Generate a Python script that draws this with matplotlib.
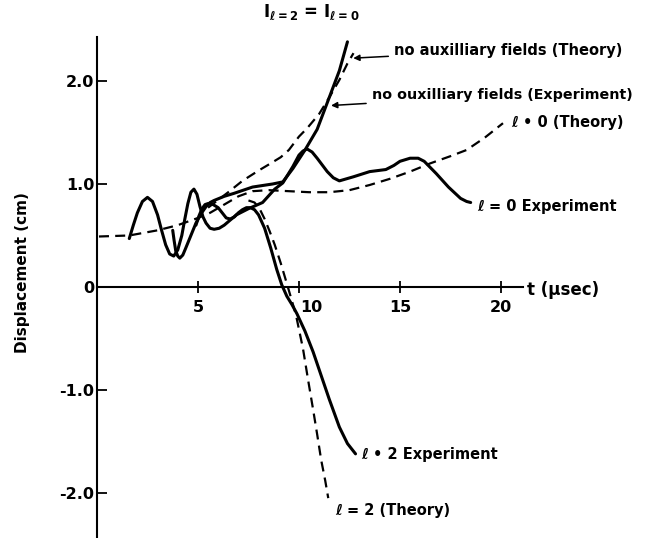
import matplotlib
matplotlib.use("Agg")
import matplotlib.pyplot as plt
import matplotlib.transforms as mtransforms

plt.rcParams['font.family'] = ['DejaVu Sans']
plt.rcParams['font.weight'] = 'bold'

# -------- Data --------
# l = 0 theory (dashed)
t_l0_theory = [0.1, 1.6, 3.0, 4.0, 5.0, 5.6, 6.3, 7.0, 7.7, 8.5, 9.5, 10.5, 11.5, 12.5,
               13.5, 14.5, 15.5, 16.5, 17.5, 18.3, 19.2, 20.1]
y_l0_theory = [0.49, 0.50, 0.55, 0.60, 0.67, 0.72, 0.80, 0.88, 0.93, 0.94, 0.93, 0.92, 0.92, 0.94,
               0.99, 1.05, 1.12, 1.20, 1.27, 1.33, 1.45, 1.59]

# no auxiliary fields theory (dashed)
t_noaux_theory = [5.5, 6.5, 7.2, 8.0, 8.6, 9.1, 9.5, 10.0, 10.4, 11.0, 11.5, 12.0, 12.4, 12.7]
y_noaux_theory = [0.77, 0.92, 1.03, 1.13, 1.20, 1.26, 1.33, 1.46, 1.54, 1.68, 1.84, 2.01, 2.17, 2.27]

# l = 2 theory (dashed)
t_l2_theory = [7.5, 7.8, 8.05, 8.3, 8.55, 8.8, 9.1, 9.45, 9.85, 10.2, 10.45, 10.7, 10.9, 11.1,
               11.3, 11.45]
y_l2_theory = [0.84, 0.82, 0.76, 0.66, 0.54, 0.41, 0.23, 0.00, -0.27, -0.60, -0.90, -1.19, -1.43,
               -1.68, -1.88, -2.05]

# l = 0 experiment (solid)
t_l0_exp = [1.6, 1.8, 2.0, 2.25, 2.5, 2.75, 3.0, 3.2, 3.4, 3.6, 3.8, 4.0, 4.2, 4.35, 4.5, 4.65,
            4.8, 4.95, 5.1, 5.25, 5.4, 5.6, 5.8, 6.05, 6.3, 6.9, 7.5, 8.2, 8.8, 9.2, 9.7, 10.0,
            10.2, 10.4, 10.65, 10.9, 11.4, 11.7, 12.0, 12.7, 13.5, 14.3, 14.7, 15.0, 15.5, 15.9,
            16.2, 16.8, 17.4, 18.0, 18.3, 18.5]
y_l0_exp = [0.47, 0.60, 0.72, 0.83, 0.87, 0.83, 0.70, 0.55, 0.41, 0.32, 0.30, 0.36, 0.50, 0.66,
            0.81, 0.92, 0.95, 0.90, 0.78, 0.68, 0.62, 0.57, 0.56, 0.57, 0.60, 0.70, 0.76, 0.82,
            0.95, 1.01, 1.17, 1.28, 1.32, 1.34, 1.31, 1.25, 1.12, 1.06, 1.03, 1.07, 1.12, 1.14,
            1.18, 1.22, 1.25, 1.25, 1.22, 1.10, 0.97, 0.86, 0.83, 0.82]

# no auxiliary fields experiment (solid)
t_noaux_exp = [3.75, 3.82, 3.9, 4.0, 4.1, 4.25, 4.4, 4.65, 4.9, 5.15, 5.4, 5.6, 5.8, 6.3, 6.8,
               7.7, 8.7, 9.2, 9.7, 10.3, 10.9, 11.5, 12.0, 12.4]
y_noaux_exp = [0.55, 0.45, 0.35, 0.30, 0.28, 0.31, 0.38, 0.50, 0.62, 0.71, 0.78, 0.82, 0.84,
               0.88, 0.91, 0.97, 1.00, 1.02, 1.15, 1.33, 1.53, 1.84, 2.10, 2.38]

# l = 2 experiment (solid)
t_l2_exp = [4.9, 5.05, 5.2, 5.35, 5.5, 5.75, 6.0, 6.2, 6.4, 6.6, 6.8, 7.0, 7.2, 7.4, 7.6, 7.8,
            8.0, 8.3, 8.6, 8.9, 9.15, 9.4, 9.65, 9.9, 10.3, 10.7, 11.1, 11.5, 12.0, 12.4, 12.8]
y_l2_exp = [0.60, 0.69, 0.76, 0.80, 0.81, 0.80, 0.77, 0.72, 0.67, 0.66, 0.68, 0.72, 0.75, 0.77,
            0.77, 0.75, 0.70, 0.57, 0.38, 0.17, 0.02, -0.09, -0.17, -0.26, -0.43, -0.63, -0.86,
            -1.09, -1.36, -1.52, -1.62]

x_ticks = [5, 10, 15, 20]
y_ticks = [-2.0, -1.0, 0.0, 1.0, 2.0]
y_tick_labels = ["-2.0", "-1.0", "0", "1.0", "2.0"]

# -------- Plot --------
fig = plt.figure(figsize=(6.45, 5.38), dpi=100)
ax = fig.add_axes([0, 0, 1, 1])
ax.set_xlim(-4.80, 27.13)
ax.set_ylim(-2.437, 2.786)

solid = dict(color="black", lw=2.2, solid_capstyle="round", solid_joinstyle="round")
dashed = dict(color="black", lw=1.6, dashes=(4.5, 2.8))

ax.plot(t_l0_theory, y_l0_theory, **dashed)
ax.plot(t_noaux_theory, y_noaux_theory, **dashed)
ax.plot(t_l2_theory, y_l2_theory, **dashed)
ax.plot(t_l0_exp, y_l0_exp, **solid)
ax.plot(t_noaux_exp, y_noaux_exp, **solid)
ax.plot(t_l2_exp, y_l2_exp, **solid)

# axes through the origin
for side in ["top", "right"]:
    ax.spines[side].set_visible(False)
ax.spines["left"].set_position(("data", 0))
ax.spines["bottom"].set_position(("data", 0))
ax.spines["left"].set_bounds(-2.44, 2.43)
ax.spines["bottom"].set_bounds(0, 21.1)
ax.spines["left"].set_linewidth(1.5)
ax.spines["bottom"].set_linewidth(1.5)

ax.set_xticks(x_ticks)
ax.set_xticklabels([str(v) for v in x_ticks])
ax.set_yticks(y_ticks)
ax.set_yticklabels(y_tick_labels)
ax.tick_params(axis="x", direction="inout", length=9, width=1.3, labelsize=11.5, pad=5)
ax.tick_params(axis="y", direction="in", length=7, width=1.3, labelsize=11.5, pad=2)
# the "10" label sits a little to the right of its tick
lab10 = ax.get_xticklabels()[1]
lab10.set_transform(lab10.get_transform() + mtransforms.ScaledTranslation(0.12, 0, fig.dpi_scale_trans))

ax.text(21.3, -0.03, "t (μsec)", fontsize=12, ha="left", va="center")
ax.text(-3.7, 0.14, "Displacement (cm)", fontsize=11, rotation=90, ha="center", va="center")
ax.text(10.6, 2.67, r"$\mathbf{I}_{\ell=2}$ = $\mathbf{I}_{\ell=0}$", fontsize=12, ha="center", va="center")

arrow = dict(arrowstyle="-|>", color="black", lw=1.1, mutation_scale=9)
ax.annotate("no auxilliary fields (Theory)", xy=(12.55, 2.22), xytext=(14.7, 2.30),
            fontsize=10.5, ha="left", va="center", arrowprops=arrow)
ax.annotate("no ouxilliary fields (Experiment)", xy=(11.45, 1.76), xytext=(13.6, 1.86),
            fontsize=10.3, ha="left", va="center", arrowprops=arrow)
ax.text(20.5, 1.60, "ℓ • 0 (Theory)", fontsize=10.5, ha="left", va="center")
ax.text(18.8, 0.78, "ℓ = 0 Experiment", fontsize=10.5, ha="left", va="center")
ax.text(13.1, -1.63, "ℓ • 2 Experiment", fontsize=10.5, ha="left", va="center")
ax.text(11.8, -2.17, "ℓ = 2 (Theory)", fontsize=10.5, ha="left", va="center")

fig.savefig("out.png", dpi=100)
